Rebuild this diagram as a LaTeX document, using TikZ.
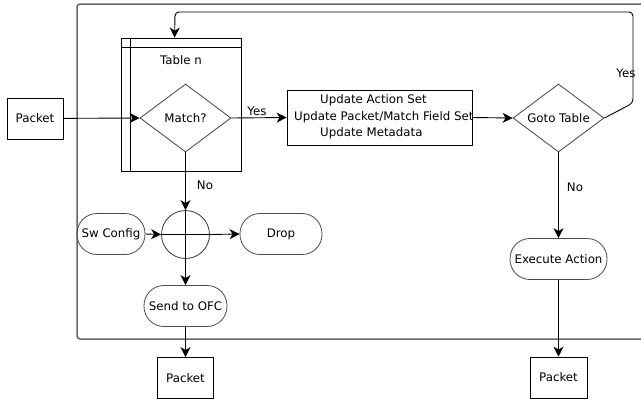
\documentclass[tikz,border=0pt]{standalone}
\usepackage{fontspec}
\setmainfont{DejaVu Sans}
\usetikzlibrary{shapes.geometric,arrows.meta,calc}
\begin{document}
\begin{tikzpicture}[x=1pt,y=-1pt,
  font=\fontsize{11.8}{16.5}\selectfont,
  box/.style={draw, line width=0.8pt, minimum width=56pt, minimum height=41pt, inner sep=0pt},
  dia/.style={diamond, draw=black!75, line width=0.8pt, minimum width=91pt, minimum height=68pt, inner sep=0pt, aspect=1.34},
  term/.style={rectangle, rounded corners=20pt, draw=black!70, line width=0.8pt, minimum height=41pt, inner sep=0pt},
  arr/.style={-{Stealth[length=10pt,width=10pt,inset=3pt]}, line width=0.9pt},
  lbl/.style={inner sep=0pt}]
\useasboundingbox (0,0) rectangle (641,400);
\clip (0,0) rectangle (641,400);
% outer frame
\draw[black!60, line width=1.5pt, rounded corners=3pt] (77,4) rectangle (700,339);
% nodes
\node[box] (pk1) at (35,118.5) {Packet};
\node[draw, line width=0.8pt, minimum width=120pt, minimum height=133pt, inner sep=0pt] (table) at (181,104.5) {};
\draw[line width=0.8pt] ($(table.north west)+(10,0)$) -- ($(table.south west)+(10,0)$);
\draw[line width=0.8pt] ($(table.north west)+(0,10)$) -- ($(table.north east)+(0,10)$);
\node[lbl] (tabletxt) at (181,60) {Table n};
\node[dia] (match) at (185.5,118) {Match?};
\node[box, minimum width=185pt, minimum height=55pt] (upd) at (379.5,117.5) {};
\node[lbl, anchor=west, align=left] (updtxt) at (294,117) {\hspace*{26pt}Update Action Set\\Update Packet/Match Field Set\\\hspace*{26pt}Update Metadata};
\node[dia] (goto) at (558.5,118) {Goto Table};
\node[term, minimum width=97pt] (exec) at (558.5,259) {Execute Action};
\node[box, minimum width=57pt] (pk3) at (558.5,377.5) {Packet};
\node[circle, draw=black!80, line width=0.8pt, minimum size=48pt, inner sep=0pt] (junc) at (185.5,234.5) {};
\node[term, minimum width=68pt] (sw) at (111,234) {Sw Config};
\node[term, minimum width=82pt] (drop) at (281,234) {Drop};
\node[term, minimum width=83pt] (ofc) at (185.5,306) {Send to OFC};
\node[box] (pk2) at (185.5,378) {Packet};
% connectors
\draw[arr] (pk1) -- (match.west);
\draw[arr] (match.east) -- (upd.west);
\node[lbl] (yes1) at (257,111) {Yes};
\draw[arr] (upd.east) -- (goto.west);
\draw[arr, rounded corners=4pt] (goto.east) -- (633,103) -- (633,12) -- (175,12) -- ($(table.north west)+(54,0)$);
\node[lbl] (yes2) at (626,73) {Yes};
\draw[arr] (match.south) -- (junc.north);
\node[lbl] (no1) at (205,185) {No};
\draw[line width=0.8pt] (junc.north) -- (junc.south);
\draw[line width=0.8pt] (junc.west) -- (junc.east);
\draw[arr] (sw.east) -- (junc.west);
\draw[arr] (junc.east) -- (drop.west);
\draw[arr] (junc.south) -- (ofc.north);
\draw[arr] (ofc.south) -- (pk2.north);
\draw[arr] (goto.south) -- (exec.north);
\node[lbl] (no2) at (575,187) {No};
\draw[arr] (exec.south) -- (pk3.north);
\end{tikzpicture}
\end{document}
